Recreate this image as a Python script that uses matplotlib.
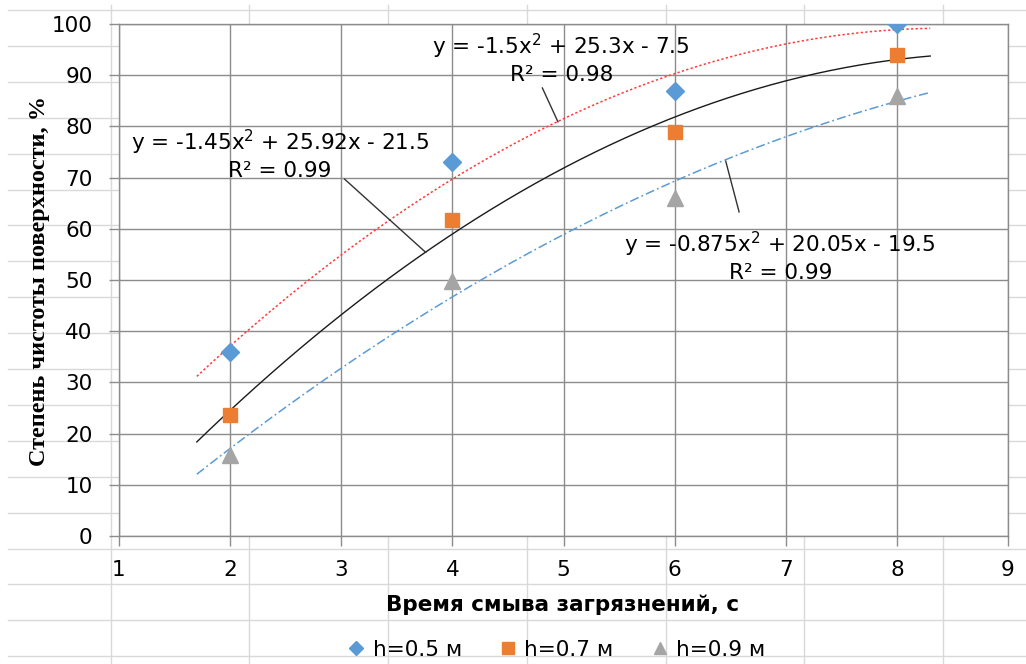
import numpy as np
import matplotlib
matplotlib.use("Agg")
import matplotlib.pyplot as plt
from matplotlib.lines import Line2D

# ---- data ----
times = [2, 4, 6, 8]
h05 = [36, 73, 87, 100]
h07 = [23.6, 61.8, 79, 94]
h09 = [15.8, 49.8, 66, 86]
series_labels = ["h=0.5 м", "h=0.7 м", "h=0.9 м"]

# trendline coefficients (a, b, c) as printed on the chart
coef_05 = [-1.5, 25.3, -7.5]
coef_07 = [-1.45, 25.92, -21.5]
coef_09 = [-0.875, 20.05, -19.5]
trend_range = [1.7, 8.3]

eq_05 = "y = -1.5x$^{2}$ + 25.3x - 7.5\nR² = 0.98"
eq_07 = "y = -1.45x$^{2}$ + 25.92x - 21.5\nR² = 0.99"
eq_09 = "y = -0.875x$^{2}$ + 20.05x - 19.5\nR² = 0.99"

xlabel = "Время смыва загрязнений, с"
ylabel = "Степень чистоты поверхности, %"

W, H = 1026, 664
fig = plt.figure(figsize=(W / 100, H / 100), dpi=100)
fig.patch.set_facecolor("white")

# spreadsheet-like background lines
sheet_col = "#d9d9d9"
for yy in np.arange(10, H, 35.9):
    fig.add_artist(Line2D([8 / W, 1], [1 - yy / H] * 2, color=sheet_col, lw=1.0, zorder=0))
for xx in [111, 249, 388, 527, 666, 804, 943]:
    fig.add_artist(Line2D([xx / W] * 2, [0, 1 - 5 / H], color=sheet_col, lw=1.0, zorder=0))

left, right, top, bottom = 119, 1008, 24, 536
ax = fig.add_axes([left / W, 1 - bottom / H, (right - left) / W, (bottom - top) / H])
ax.set_facecolor("white")
ax.set_zorder(1)

grid_col = "#8c8c8c"
ax.set_xlim(1, 9)
ax.set_ylim(0, 100)
ax.set_xticks(range(1, 10))
ax.set_yticks(range(0, 101, 10))
ax.grid(True, color=grid_col, lw=1.0)
ax.set_axisbelow(True)
for s in ax.spines.values():
    s.set_color(grid_col)
    s.set_linewidth(1.0)
ax.tick_params(axis="both", colors=grid_col, length=7, width=1.0, labelsize=15.5,
               labelcolor="black")
ax.tick_params(axis="y", pad=12)
ax.tick_params(axis="x", pad=10)

# trendlines
xt = np.linspace(trend_range[0], trend_range[1], 200)
ax.plot(xt, np.polyval(coef_05, xt), color="#ff3b3b", lw=1.1, ls=(0, (1.5, 1.5)), zorder=2)
ax.plot(xt, np.polyval(coef_07, xt), color="#1a1a1a", lw=1.0, ls="-", zorder=2)
ax.plot(xt, np.polyval(coef_09, xt), color="#5b9bd5", lw=1.1, ls=(0, (6, 2, 1.2, 2)), zorder=2)

# markers
ax.plot(times, h05, ls="none", marker="D", ms=9, color="#5b9bd5", label=series_labels[0], zorder=3)
ax.plot(times, h07, ls="none", marker="s", ms=10, color="#ed7d31", label=series_labels[1], zorder=3)
ax.plot(times, h09, ls="none", marker="^", ms=11, color="#a5a5a5", label=series_labels[2], zorder=3)

# equation labels with leader lines
fs_eq = 15.5
ax.text(4.98, 93.2, eq_05, ha="center", va="center", fontsize=fs_eq, linespacing=1.25, zorder=4)
ax.plot([4.81, 4.95], [87.5, 80.9], color="#333333", lw=1.0, zorder=4)
ax.text(2.45, 74.6, eq_07, ha="center", va="center", fontsize=fs_eq, linespacing=1.25, zorder=4)
ax.plot([3.03, 3.76], [69.7, 55.4], color="#333333", lw=1.0, zorder=4)
ax.text(6.95, 54.6, eq_09, ha="center", va="center", fontsize=fs_eq, linespacing=1.25, zorder=4)
ax.plot([6.46, 6.58], [73.2, 63.3], color="#333333", lw=1.0, zorder=4)

# axis labels
fig.text(40 / W, 1 - 281 / H, ylabel, rotation=90, ha="center", va="center",
         fontsize=17.5, fontweight="bold", family="Liberation Serif")
fig.text(563 / W, 1 - 605 / H, xlabel, ha="center", va="center",
         fontsize=15.5, fontweight="bold")

fig.legend(loc="center", bbox_to_anchor=(556 / W, 1 - 650 / H), ncol=3, frameon=False,
           fontsize=15.5, handlelength=0.9, handletextpad=0.3, columnspacing=1.7,
           markerscale=0.8, borderaxespad=0, borderpad=0)

fig.savefig("out.png", dpi=100, facecolor="white")
